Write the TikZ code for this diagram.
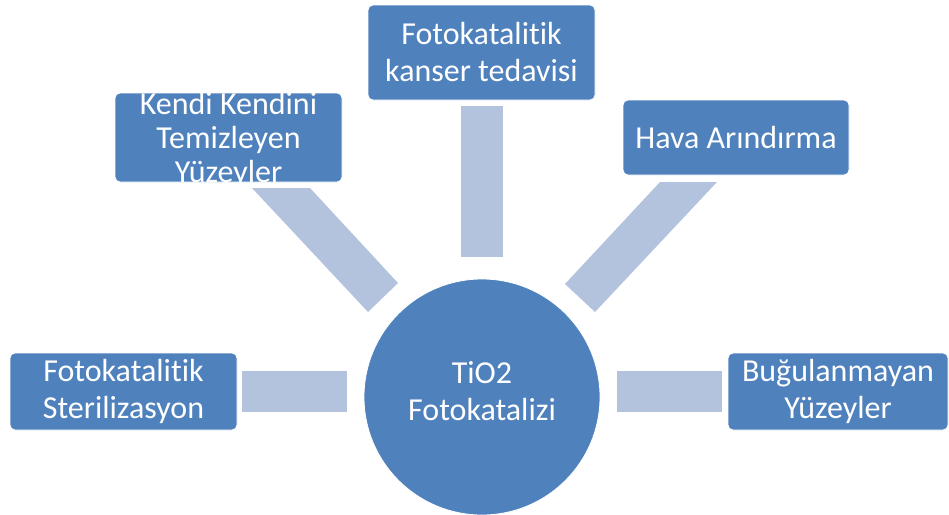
\documentclass[tikz,border=0pt]{standalone}
\usepackage{fontspec}
\setmainfont[Ligatures=NoCommon]{Carlito}
\definecolor{boxblue}{HTML}{4F81BD}
\definecolor{barblue}{HTML}{B3C3DE}
\begin{document}
\begin{tikzpicture}[x=1pt,y=-1pt,
  box/.style={rectangle, rounded corners=5pt, fill=boxblue, draw=white, line width=0.8pt,
    inner sep=0pt},
  txt/.style={text=white, align=center, inner sep=0pt, font=\fontsize{32}{37}\selectfont},
  hub/.style={circle, fill=boxblue, draw=white, line width=0.8pt,
    inner sep=0pt, minimum size=236pt},
  bar/.style={fill=barblue, draw=none}]
\useasboundingbox (0,0) rectangle (949,514);
% connectors (thick bars)
\fill[bar] (461,106) rectangle (503,257);
\fill[bar] (242,371) rectangle (347,412);
\fill[bar] (617,371) rectangle (722,412);
\fill[bar] (252,188) -- (310,188) -- (398,283) -- (368,312) -- cycle;
\fill[bar] (660,182) -- (717,182) -- (595,312) -- (565,284) -- cycle;
% hub
\node[hub] (hub) at (482,397) {};
\node[txt] (hubtext) at (482,391) {TiO2\\Fotokatalizi};
% boxes
\node[box, minimum width=227pt, minimum height=95pt] (kanser) at (481.5,52.5) {};
\node[txt] (kansertext) at (kanser.center) {Fotokatalitik\\kanser tedavisi};
\node[box, minimum width=227pt, minimum height=89pt] (kendi) at (228.5,137.5) {};
\node[txt, font=\fontsize{32}{34}\selectfont] (kenditext) at ([yshift=-2pt]kendi.center) {Kendi Kendini\\Temizleyen\\Yüzeyler};
\node[box, minimum width=226pt, minimum height=75pt] (hava) at (736,137.5) {};
\node[txt] (havatext) at (hava.center) {Hava Arındırma};
\node[box, minimum width=227pt, minimum height=77pt] (steril) at (123.5,391.5) {};
\node[txt] (steriltext) at (steril.center) {Fotokatalitik\\Sterilizasyon};
\node[box, minimum width=220pt, minimum height=77pt] (bugu) at (838,391.5) {};
\node[txt] (bugutext) at (bugu.center) {Buğulanmayan\\Yüzeyler};
\end{tikzpicture}
\end{document}
